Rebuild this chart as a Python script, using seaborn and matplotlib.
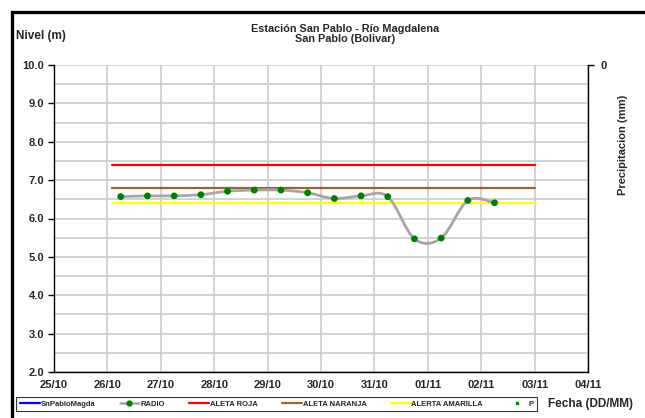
import numpy as np
import pandas as pd
import matplotlib
matplotlib.use("Agg")
import matplotlib.pyplot as plt
import matplotlib.dates as mdates
from matplotlib.path import Path
from matplotlib.patches import PathPatch, Rectangle
from matplotlib.lines import Line2D
import seaborn as sns

# datos
fechas = ["2023-10-26 06:00", "2023-10-26 18:00", "2023-10-27 06:00", "2023-10-27 18:00",
          "2023-10-28 06:00", "2023-10-28 18:00", "2023-10-29 06:00", "2023-10-29 18:00",
          "2023-10-30 06:00", "2023-10-30 18:00", "2023-10-31 06:00", "2023-10-31 18:00",
          "2023-11-01 06:00", "2023-11-01 18:00", "2023-11-02 06:00"]
nivel_radio = [6.57, 6.59, 6.59, 6.62, 6.71, 6.74, 6.74, 6.67,
               6.52, 6.59, 6.57, 5.47, 5.49, 6.47, 6.41]

alertas = ["ALETA ROJA", "ALETA NARANJA", "ALERTA AMARILLA"]
nivel_alerta = [7.4, 6.8, 6.4]
color_alerta = ["#FF0000", "#996633", "#FFFF00"]
periodo_alerta = ["2023-10-26 02:00", "2023-11-03 00:00"]

dias = pd.date_range("2023-10-25", "2023-11-04", freq="D")

sns.set_theme(style="white")
plt.rcParams['font.family'] = ['Liberation Sans', 'DejaVu Sans']
plt.rcParams['font.weight'] = 'bold'

fig = plt.figure(figsize=(6.45, 4.18), dpi=100)
ax = fig.add_axes([54/645, 46/418, 534/645, 307/418])

df = pd.DataFrame({"fecha": pd.to_datetime(fechas), "nivel": nivel_radio})

# lineas de alerta
filas = []
for nombre, nivel in zip(alertas, nivel_alerta):
    for f in periodo_alerta:
        filas.append({"fecha": pd.to_datetime(f), "nivel": nivel, "alerta": nombre})
df_alerta = pd.DataFrame(filas)
sns.lineplot(data=df_alerta, x="fecha", y="nivel", hue="alerta",
             palette=dict(zip(alertas, color_alerta)), linewidth=1.6,
             legend=False, ax=ax, zorder=3)

# linea suavizada tipo excel (bezier)
xs = mdates.date2num(df["fecha"])
ys = np.array(nivel_radio)
pts = np.column_stack([xs, ys])
verts = [pts[0]]
codes = [Path.MOVETO]
for i in range(len(pts) - 1):
    p0 = pts[max(i - 1, 0)]
    p1 = pts[i]
    p2 = pts[i + 1]
    p3 = pts[min(i + 2, len(pts) - 1)]
    verts += [p1 + (p2 - p0) / 6, p2 - (p3 - p1) / 6, p2]
    codes += [Path.CURVE4] * 3
ax.add_patch(PathPatch(Path(verts, codes), facecolor="none", edgecolor="#A6A6A6",
                       linewidth=2.0, zorder=4, capstyle="round"))
sns.scatterplot(data=df, x="fecha", y="nivel", color="#008000", s=24,
                edgecolor="none", ax=ax, zorder=5, legend=False)

ax.set_xlim(dias[0], dias[-1])
ax.set_ylim(2, 10)
ax.set_xticks(dias)
ax.xaxis.set_major_formatter(mdates.DateFormatter("%d/%m"))
ax.set_yticks(np.arange(2, 10.01, 1))
ax.set_yticks(np.arange(2, 10.01, 0.5), minor=True)
ax.set_yticklabels([f"{v:.1f}" for v in np.arange(2, 10.01, 1)])
ax.set_xlabel("")
ax.set_ylabel("")
ax.set_axisbelow(True)
ax.grid(True, which="both", axis="y", color="#CCCCCC", linewidth=1.2)
ax.grid(True, which="major", axis="x", color="#CCCCCC", linewidth=1.2)
ax.tick_params(axis="both", which="major", direction="out", length=4, width=1,
               color="black", labelsize=8, pad=2)
ax.tick_params(axis="y", which="minor", length=0)
ax.tick_params(axis="y", pad=3)
for lab in ax.get_xticklabels() + ax.get_yticklabels():
    lab.set_fontweight("bold")
for s in ["top", "right"]:
    ax.spines[s].set_visible(False)
for s in ["left", "bottom"]:
    ax.spines[s].set_color("black")
    ax.spines[s].set_linewidth(1.0)

# eje secundario de precipitacion
ax2 = ax.twinx()
ax2.set_ylim(100, 0)
ax2.set_yticks([0])
ax2.set_yticklabels(["0"], fontweight="bold")
ax2.tick_params(axis="y", direction="out", length=4, width=1, color="black",
                labelsize=8, pad=5)
for s in ["top", "left", "bottom"]:
    ax2.spines[s].set_visible(False)
ax2.spines["right"].set_color("black")
ax2.spines["right"].set_linewidth(1.0)
ax2.grid(False)
ax2.set_ylabel("Precipitacion (mm)", fontsize=8, fontweight="bold", rotation=90)
ax2.yaxis.set_label_coords(1.056, 0.74)

# textos
fig.text(345/645, 1 - 34/418, "Estación San Pablo - Río Magdalena\nSan Pablo (Bolivar)",
         ha="center", va="center", fontsize=7.8, fontweight="bold", linespacing=1.05)
fig.text(16/645, 1 - 36/418, "Nivel (m)", ha="left", va="center", fontsize=8.5, fontweight="bold")
fig.text(548/645, 1 - 404/418, "Fecha (DD/MM)", ha="left", va="center", fontsize=8.5,
         fontweight="bold")

# leyenda
handles = [
    Line2D([], [], color="#0000FF", linewidth=1.6),
    Line2D([], [], color="#A6A6A6", linewidth=1.8, marker="o", markersize=3.5,
           markerfacecolor="#008000", markeredgecolor="#008000"),
    Line2D([], [], color="#FF0000", linewidth=1.6),
    Line2D([], [], color="#996633", linewidth=1.6),
    Line2D([], [], color="#FFFF00", linewidth=1.6),
    Line2D([], [], linestyle="none", marker="s", markersize=1.8,
           markerfacecolor="#008000", markeredgecolor="#008000"),
]
etiquetas = ["SnPabloMagda", "RADIO"] + alertas + ["P"]
leg = fig.legend(handles, etiquetas, loc="center", ncol=6,
                 bbox_to_anchor=(276.5/645, 1 - 404/418), frameon=True, fancybox=False,
                 prop={"size": 5.5, "weight": "bold"}, handlelength=2.6,
                 handletextpad=0.1, columnspacing=3.2, borderpad=0.45)
leg.get_frame().set_edgecolor("black")
leg.get_frame().set_linewidth(0.8)

# marco exterior
fig.patches.append(Rectangle((11.5/645, -0.2), 1.2, 1.2 - 11.5/418, fill=False,
                             edgecolor="black", linewidth=2.4, transform=fig.transFigure,
                             figure=fig))

fig.savefig("out.png", dpi=100)
